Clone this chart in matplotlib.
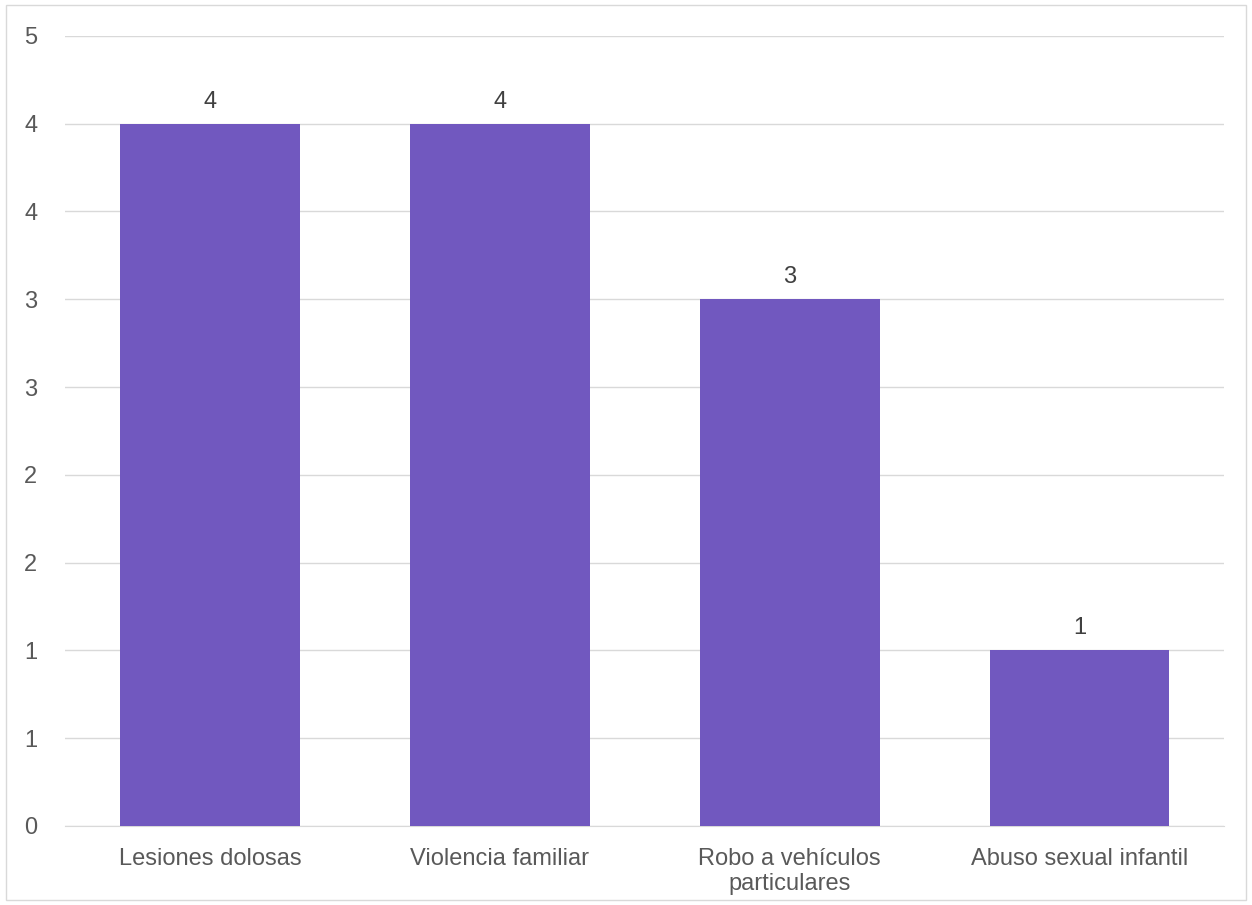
import matplotlib.pyplot as plt
from matplotlib.ticker import FuncFormatter, MultipleLocator
from matplotlib.patches import Rectangle
import math

plt.rcParams['font.family'] = ['Liberation Sans', 'DejaVu Sans']

categories = ["Lesiones dolosas", "Violencia familiar",
              "Robo a vehículos\nparticulares", "Abuso sexual infantil"]
values = [4, 4, 3, 1]

bar_color = "#7158BF"
text_color = "#595959"
grid_color = "#D9D9D9"

fig = plt.figure(figsize=(12.52, 9.05), dpi=100)
ax = fig.add_axes([0.052, 0.0873, 0.926, 0.873])

x = range(len(categories))
bars = ax.bar(x, values, width=0.62, color=bar_color, zorder=3)

for b, v in zip(bars, values):
    ax.annotate(f"{v}", (b.get_x() + b.get_width() / 2, v),
                xytext=(0, 11.5), textcoords="offset points",
                ha="center", va="baseline", fontsize=17, color="#404040")

ax.set_xlim(-0.5, len(categories) - 0.5)
ax.set_ylim(0, 4.5)
ax.yaxis.set_major_locator(MultipleLocator(0.5))
ax.yaxis.set_major_formatter(FuncFormatter(lambda v, p: f"{int(math.floor(v + 0.5))}"))
ax.set_xticks(list(x))
ax.set_xticklabels(categories, linespacing=1.15)

ax.grid(axis="y", color=grid_color, linewidth=1, zorder=0)
for s in ["top", "right", "left"]:
    ax.spines[s].set_visible(False)
ax.spines["bottom"].set_color(grid_color)
ax.tick_params(axis="both", length=0, labelsize=17, colors=text_color)
ax.tick_params(axis="y", pad=20)
ax.tick_params(axis="x", pad=16)

fig.patches.append(Rectangle((0.005, 0.006), 0.99, 0.988, transform=fig.transFigure,
                             fill=False, edgecolor=grid_color, linewidth=1))

fig.savefig("out.png", dpi=100)
